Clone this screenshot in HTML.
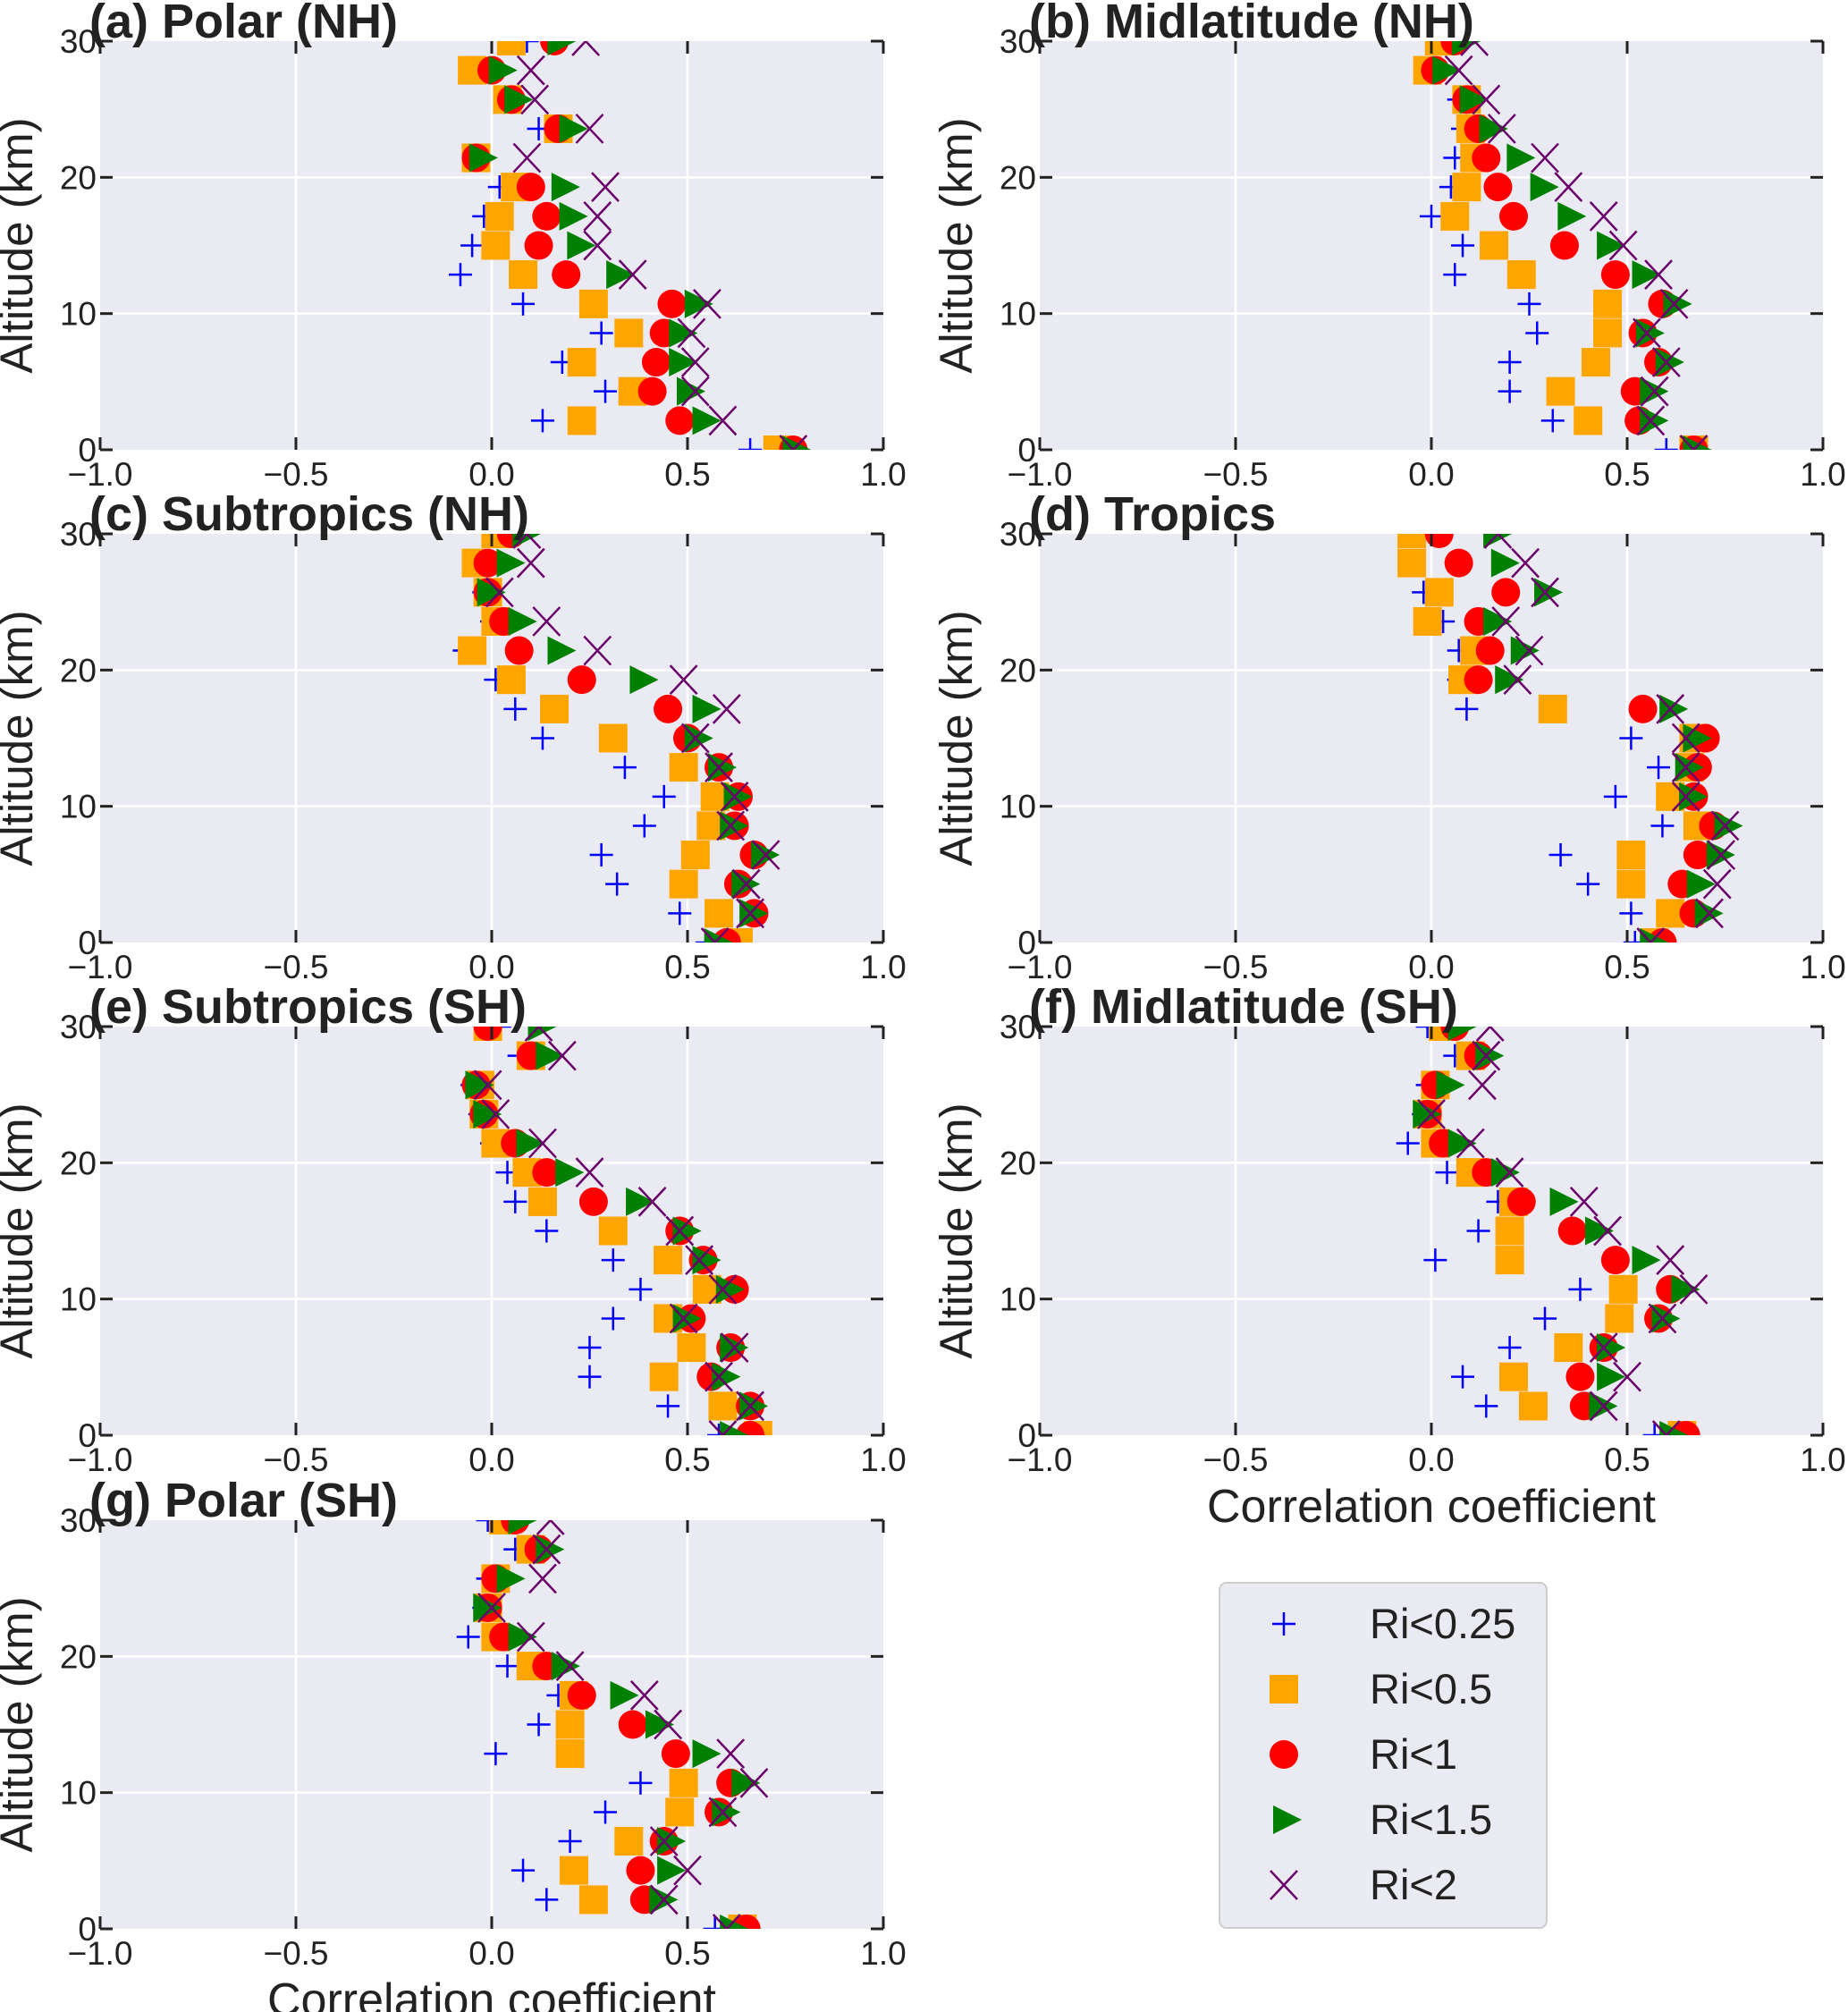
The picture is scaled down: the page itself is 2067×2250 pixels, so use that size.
<!DOCTYPE html>
<html><head><meta charset="utf-8">
<style>
html,body{margin:0;padding:0;background:#fff;}
svg{display:block;font-family:"Liberation Sans",Arial,sans-serif;}
</style></head>
<body>
<svg id="fig" width="2067" height="2250" viewBox="0 0 2067 2250" xmlns="http://www.w3.org/2000/svg"></svg>
<script>
// altitude levels (km)
const altitudes = [0, 2.14, 4.29, 6.43, 8.57, 10.71, 12.86, 15, 17.14, 19.29, 21.43, 23.57, 25.71, 27.86, 30];
const xTicks = [-1, -0.5, 0, 0.5, 1];
const xTickLabels = ["\u22121.0", "\u22120.5", "0.0", "0.5", "1.0"];
const yTicks = [0, 10, 20, 30];
const yTickLabels = ["0", "10", "20", "30"];
const seriesNames = ["Ri<0.25", "Ri<0.5", "Ri<1", "Ri<1.5", "Ri<2"];

// (a) Polar NH
const a_ri025 = [0.66,0.13,0.29,0.18,0.28,0.08,-0.08,-0.05,-0.02,0.02,-0.04,0.12,0.04,-0.03,0.09];
const a_ri05  = [0.73,0.23,0.36,0.23,0.35,0.26,0.08,0.01,0.02,0.06,-0.04,0.17,0.04,-0.05,0.05];
const a_ri1   = [0.77,0.48,0.41,0.42,0.44,0.46,0.19,0.12,0.14,0.10,-0.04,0.17,0.05,0.00,0.16];
const a_ri15  = [0.77,0.54,0.50,0.48,0.48,0.52,0.32,0.22,0.20,0.18,-0.03,0.20,0.06,0.02,0.17];
const a_ri2   = [0.77,0.59,0.52,0.52,0.51,0.55,0.36,0.27,0.27,0.29,0.09,0.25,0.11,0.10,0.24];
// (b) Midlatitude NH
const b_ri025 = [0.60,0.31,0.20,0.20,0.27,0.25,0.06,0.08,0.00,0.05,0.06,0.08,0.07,-0.01,0.02];
const b_ri05  = [0.67,0.40,0.33,0.42,0.45,0.45,0.23,0.16,0.06,0.09,0.11,0.10,0.09,-0.01,0.02];
const b_ri1   = [0.67,0.53,0.52,0.58,0.54,0.59,0.47,0.34,0.21,0.17,0.14,0.12,0.09,0.01,0.06];
const b_ri15  = [0.67,0.56,0.56,0.60,0.55,0.62,0.54,0.45,0.35,0.28,0.22,0.15,0.10,0.03,0.08];
const b_ri2   = [0.67,0.56,0.57,0.60,0.55,0.62,0.58,0.49,0.44,0.35,0.29,0.18,0.14,0.07,0.11];
// (c) Subtropics NH
const c_ri025 = [0.55,0.48,0.32,0.28,0.39,0.44,0.34,0.13,0.06,0.01,-0.07,0.00,-0.02,-0.03,0.02];
const c_ri05  = [0.63,0.58,0.49,0.52,0.56,0.57,0.49,0.31,0.16,0.05,-0.05,0.01,-0.01,-0.04,0.01];
const c_ri1   = [0.60,0.67,0.63,0.67,0.62,0.63,0.58,0.50,0.45,0.23,0.07,0.03,-0.01,-0.01,0.05];
const c_ri15  = [0.57,0.66,0.64,0.69,0.61,0.62,0.58,0.52,0.54,0.38,0.17,0.07,-0.01,0.04,0.08];
const c_ri2   = [0.57,0.66,0.65,0.70,0.61,0.62,0.58,0.52,0.60,0.49,0.27,0.14,0.02,0.10,0.09];
// (d) Tropics
const d_ri025 = [0.52,0.51,0.40,0.33,0.59,0.47,0.58,0.51,0.09,0.07,0.07,0.03,-0.02,-0.05,-0.05];
const d_ri05  = [0.57,0.61,0.51,0.51,0.68,0.61,0.66,0.67,0.31,0.08,0.11,-0.01,0.02,-0.05,-0.05];
const d_ri1   = [0.59,0.67,0.64,0.68,0.72,0.67,0.68,0.70,0.54,0.12,0.15,0.12,0.19,0.07,0.02];
const d_ri15  = [0.56,0.70,0.68,0.73,0.75,0.66,0.65,0.67,0.61,0.19,0.23,0.16,0.29,0.18,0.16];
const d_ri2   = [0.56,0.71,0.73,0.74,0.75,0.65,0.65,0.65,0.61,0.22,0.25,0.19,0.29,0.24,0.17];
// (e) Subtropics SH
const e_ri025 = [0.58,0.45,0.25,0.25,0.31,0.38,0.31,0.14,0.06,0.04,0.00,-0.03,-0.05,0.07,0.02];
const e_ri05  = [0.68,0.59,0.44,0.51,0.45,0.55,0.45,0.31,0.13,0.09,0.01,-0.02,-0.03,0.10,-0.01];
const e_ri1   = [0.66,0.66,0.56,0.61,0.51,0.62,0.54,0.48,0.26,0.14,0.06,-0.02,-0.04,0.10,-0.01];
const e_ri15  = [0.61,0.66,0.59,0.61,0.49,0.60,0.54,0.49,0.37,0.19,0.09,-0.02,-0.04,0.14,0.12];
const e_ri2   = [0.59,0.66,0.58,0.62,0.49,0.59,0.53,0.48,0.41,0.25,0.13,0.01,-0.01,0.18,0.12];
// (f) Midlatitude SH
const f_ri025 = [0.57,0.14,0.08,0.20,0.29,0.38,0.01,0.12,0.17,0.04,-0.06,-0.02,-0.01,0.06,-0.01];
const f_ri05  = [0.64,0.26,0.21,0.35,0.48,0.49,0.20,0.20,0.21,0.10,0.01,-0.01,0.01,0.10,0.03];
const f_ri1   = [0.65,0.39,0.38,0.44,0.58,0.61,0.47,0.36,0.23,0.14,0.03,-0.01,0.01,0.12,0.06];
const f_ri15  = [0.61,0.43,0.45,0.45,0.59,0.64,0.54,0.42,0.33,0.18,0.07,-0.02,0.04,0.14,0.07];
const f_ri2   = [0.60,0.44,0.50,0.44,0.59,0.67,0.61,0.45,0.39,0.20,0.10,0.00,0.13,0.14,0.15];
// (g) Polar SH
const g_ri025 = [0.57,0.14,0.08,0.20,0.29,0.38,0.01,0.12,0.17,0.04,-0.06,-0.02,-0.01,0.06,-0.01];
const g_ri05  = [0.64,0.26,0.21,0.35,0.48,0.49,0.20,0.20,0.21,0.10,0.01,-0.01,0.01,0.10,0.03];
const g_ri1   = [0.65,0.39,0.38,0.44,0.58,0.61,0.47,0.36,0.23,0.14,0.03,-0.01,0.01,0.12,0.06];
const g_ri15  = [0.61,0.43,0.45,0.45,0.59,0.64,0.54,0.42,0.33,0.18,0.07,-0.02,0.04,0.14,0.07];
const g_ri2   = [0.60,0.44,0.50,0.44,0.59,0.67,0.61,0.45,0.39,0.20,0.10,0.00,0.13,0.14,0.15];

const NS = "http://www.w3.org/2000/svg";
const svg = document.getElementById("fig");
function mk(tag, attrs, parent) {
  const e = document.createElementNS(NS, tag);
  for (const k in attrs) e.setAttribute(k, attrs[k]);
  (parent || svg).appendChild(e);
  return e;
}

const panels = [
  {id:"a", title:"(a) Polar (NH)", L:112, T:46, s:[a_ri025,a_ri05,a_ri1,a_ri15,a_ri2], xl:false},
  {id:"b", title:"(b) Midlatitude (NH)", L:1163, T:46, s:[b_ri025,b_ri05,b_ri1,b_ri15,b_ri2], xl:false},
  {id:"c", title:"(c) Subtropics (NH)", L:112, T:597, s:[c_ri025,c_ri05,c_ri1,c_ri15,c_ri2], xl:false},
  {id:"d", title:"(d) Tropics", L:1163, T:597, s:[d_ri025,d_ri05,d_ri1,d_ri15,d_ri2], xl:false},
  {id:"e", title:"(e) Subtropics (SH)", L:112, T:1148, s:[e_ri025,e_ri05,e_ri1,e_ri15,e_ri2], xl:false},
  {id:"f", title:"(f) Midlatitude (SH)", L:1163, T:1148, s:[f_ri025,f_ri05,f_ri1,f_ri15,f_ri2], xl:true},
  {id:"g", title:"(g) Polar (SH)", L:112, T:1700, s:[g_ri025,g_ri05,g_ri1,g_ri15,g_ri2], xl:true}
];
const W = 876, H = 457;
const defs = mk("defs", {});

function drawMarker(g, kind, x, y) {
  let el;
  if (kind === 0) {
    el = mk("path", {d:`M${x-13},${y}H${x+13}M${x},${y-13}V${y+13}`, stroke:"#0000ff", "stroke-width":2.5, fill:"none"}, g);
  } else if (kind === 1) {
    el = mk("rect", {x:x-16, y:y-16, width:32, height:32, fill:"#ffa500"}, g);
  } else if (kind === 2) {
    el = mk("circle", {cx:x, cy:y, r:16, fill:"#ff0000"}, g);
  } else if (kind === 3) {
    el = mk("path", {d:`M${x-12},${y-16}L${x+20},${y}L${x-12},${y+16}Z`, fill:"#008000"}, g);
  } else {
    el = mk("path", {d:`M${x-15},${y-16}L${x+15},${y+16}M${x-15},${y+16}L${x+15},${y-16}`, stroke:"#6a006a", "stroke-width":2.5, fill:"none"}, g);
  }
  return el;
}
const markerNames = ["marker-ri-0-25","marker-ri-0-5","marker-ri-1","marker-ri-1-5","marker-ri-2"];

panels.forEach(p => {
  const g = mk("g", {});
  
  
  const cp = mk("clipPath", {id:"clip-" + p.id}, defs);
  mk("rect", {x:p.L, y:p.T, width:W, height:H}, cp);
  const xs = v => p.L + (v + 1) / 2 * W;
  const ys = v => p.T + H - v / 30 * H;
  const bg = mk("rect", {x:p.L, y:p.T, width:W, height:H, fill:"#eaeaf2"}, g);
  
  
  xTicks.forEach(t => {
    if (t > -1 && t < 1) {
      const gl = mk("line", {x1:xs(t), x2:xs(t), y1:p.T, y2:p.T+H, stroke:"#fff", "stroke-width":2.5}, g);
      
      
    }
  });
  yTicks.forEach(t => {
    if (t > 0 && t < 30) {
      const gl = mk("line", {x1:p.L, x2:p.L+W, y1:ys(t), y2:ys(t), stroke:"#fff", "stroke-width":2.5}, g);
      
      
    }
  });
  // series (clipped to plot area)
  const mg = mk("g", {"clip-path":`url(#clip-${p.id})`}, g);
  for (let k = 0; k < 5; k++) {
    const sg = mk("g", {}, mg);
    
    
    p.s[k].forEach((v, i) => {
      const m = drawMarker(sg, k, xs(v), ys(altitudes[i]));
      
      
    });
  }
  xTicks.forEach((t, i) => {
    const x = xs(t);
    mk("line", {x1:x, x2:x, y1:p.T, y2:p.T+14, stroke:"#222", "stroke-width":3}, g);
    mk("line", {x1:x, x2:x, y1:p.T+H, y2:p.T+H-14, stroke:"#222", "stroke-width":3}, g);
    const tl = mk("text", {x:x, y:p.T+H+40, "text-anchor":"middle", "font-size":37, fill:"#222"}, g);
    tl.textContent = xTickLabels[i];
    
    
  });
  yTicks.forEach((t, i) => {
    const y = ys(t);
    mk("line", {x1:p.L, x2:p.L+14, y1:y, y2:y, stroke:"#222", "stroke-width":3}, g);
    mk("line", {x1:p.L+W, x2:p.L+W-14, y1:y, y2:y, stroke:"#222", "stroke-width":3}, g);
    const tl = mk("text", {x:p.L-4, y:y+13, "text-anchor":"end", "font-size":37, fill:"#222"}, g);
    tl.textContent = yTickLabels[i];
    
    
  });
  const tt = mk("text", {x:p.L-12, y:p.T-4, "font-size":54, "font-weight":"bold", fill:"#222"}, g);
  tt.textContent = p.title;
  
  
  const cy = p.T + H/2;
  const yl = mk("text", {x:0, y:0, transform:`translate(${p.L-76},${cy}) rotate(-90)`, "text-anchor":"middle", "font-size":51, fill:"#222"}, g);
  yl.textContent = "Altitude (km)";
  
  
  if (p.xl) {
    const xl = mk("text", {x:p.L+W/2, y:p.T+H+97, "text-anchor":"middle", "font-size":52, fill:"#222"}, g);
    xl.textContent = "Correlation coefficient";
    
    
  }
});

const lg = mk("g", {});


mk("rect", {x:1364, y:1770, width:366, height:386, rx:8, fill:"#eaeaf2", stroke:"#cccccc", "stroke-width":2}, lg);
seriesNames.forEach((n, k) => {
  const y = 1816 + k * 73;
  const eg = mk("g", {}, lg);
  
  
  drawMarker(eg, k, 1436, y);
  const t = mk("text", {x:1532, y:y+16, "font-size":47, fill:"#222"}, eg);
  t.textContent = n;
});
</script>
</body></html>
